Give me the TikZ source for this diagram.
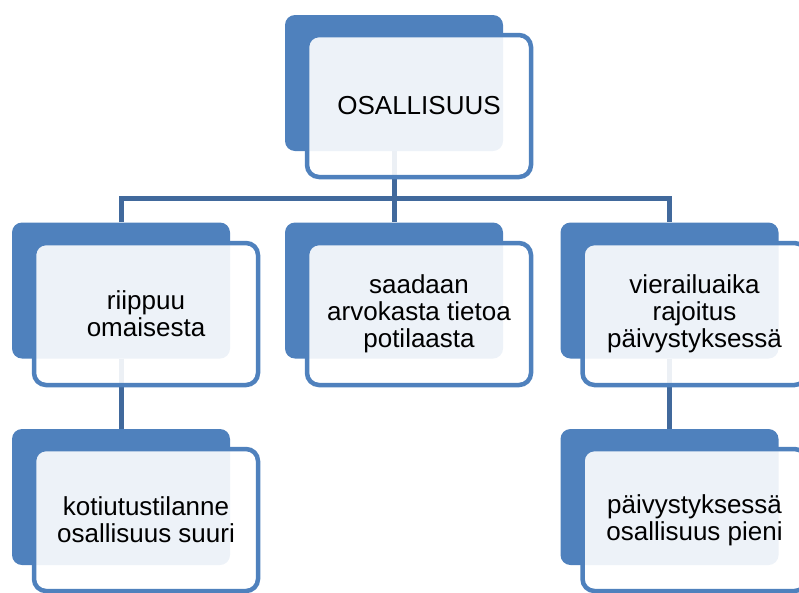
\documentclass[tikz,border=0pt]{standalone}
\usepackage{fontspec}
\setmainfont{Liberation Sans}
\usetikzlibrary{backgrounds}
\definecolor{accentblue}{HTML}{4F81BD}
\definecolor{linkblue}{HTML}{41699C}

\begin{document}
\begin{tikzpicture}[x=1pt,y=-1pt,
    backbox/.style={rectangle,rounded corners=10pt,fill=accentblue,minimum width=218pt,minimum height=136pt,inner sep=0pt},
    textbox/.style={rectangle,rounded corners=12pt,draw=accentblue,line width=4.5pt,fill=white,fill opacity=0.9,text opacity=1,minimum width=224pt,minimum height=142pt,inner sep=0pt,align=center,font=\fontsize{26}{27}\selectfont},
    link/.style={draw=linkblue,line width=5pt}]
  \useasboundingbox (0,0) rectangle (799,592);

  \node[backbox] (rootbg) at (394,83) {};
  \node[textbox] (root) at (419,106) {OSALLISUUS};

  \node[backbox] (relativebg) at (121,290.5) {};
  \node[textbox] (relative) at (146,314) {riippuu\\omaisesta};
  \node[backbox] (infobg) at (394,290.5) {};
  \node[textbox] (info) at (419,314) {saadaan\\arvokasta tietoa\\potilaasta};
  \node[backbox] (visitbg) at (669.5,290.5) {};
  \node[textbox] (visit) at (694.5,314) {vierailuaika\\rajoitus\\päivystyksessä};

  \node[backbox] (dischargebg) at (121,497) {};
  \node[textbox] (discharge) at (146,520) {kotiutustilanne\\osallisuus suuri};
  \node[backbox] (emergencybg) at (669.5,497) {};
  \node[textbox] (emergency) at (694.5,520) {päivystyksessä\\osallisuus pieni};

  \begin{scope}[on background layer]
    \coordinate (bus) at (394,198.5);
    \draw[link] (rootbg.south) -- (bus);
    \draw[link] (relativebg.north) |- (bus) -| (visitbg.north);
    \draw[link] (bus) -- (infobg.north);
    \draw[link] (relativebg.south) -- (dischargebg.north);
    \draw[link] (visitbg.south) -- (emergencybg.north);
  \end{scope}
\end{tikzpicture}
\end{document}
